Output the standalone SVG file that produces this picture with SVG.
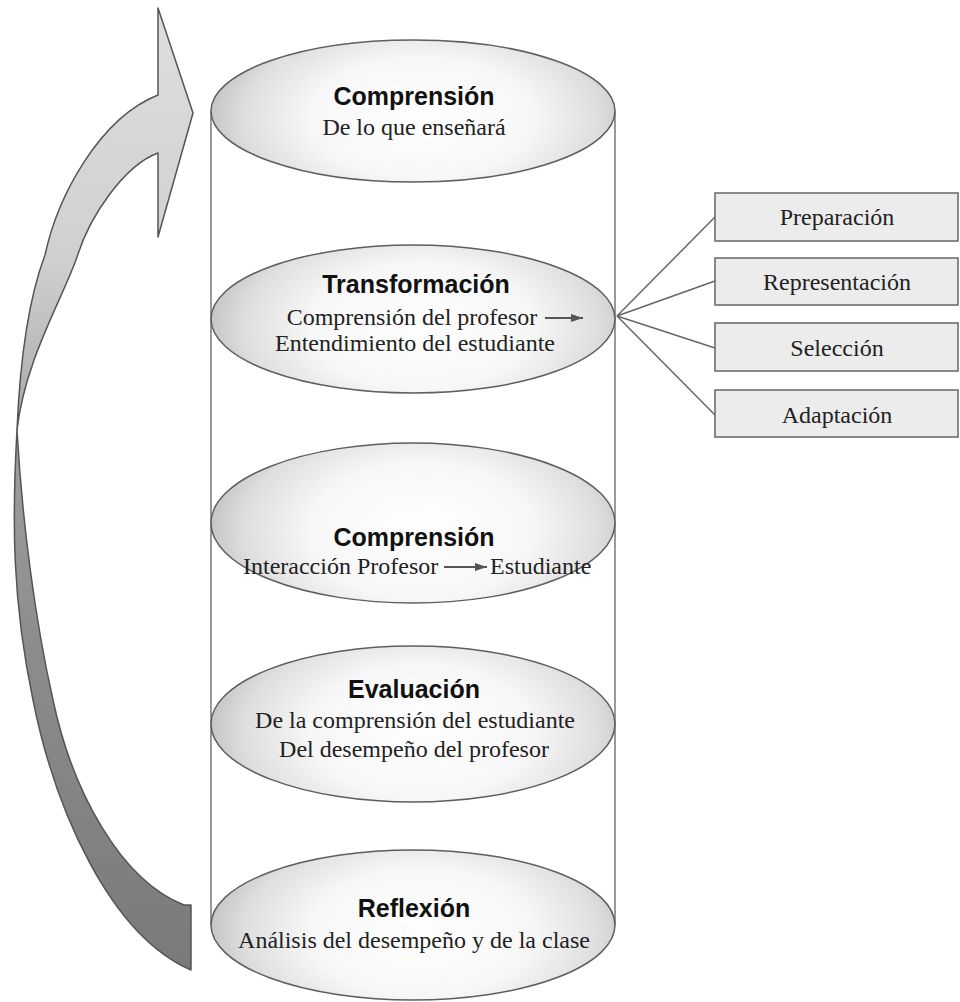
<svg xmlns="http://www.w3.org/2000/svg" width="960" height="1002" viewBox="0 0 960 1002">
<defs>
<radialGradient id="eg" cx="0.52" cy="0.55" r="0.5" gradientTransform="translate(0.52,0.55) scale(1.1,1.7) translate(-0.52,-0.55)">
<stop offset="0" stop-color="#ffffff"/>
<stop offset="0.5" stop-color="#f7f7f7"/>
<stop offset="0.8" stop-color="#dedede"/>
<stop offset="1" stop-color="#bdbdbd"/>
</radialGradient>
<linearGradient id="up" x1="0" y1="0" x2="0" y2="1">
<stop offset="0" stop-color="#dedede"/>
<stop offset="0.6" stop-color="#d0d0d0"/>
<stop offset="1" stop-color="#a8a8a8"/>
</linearGradient>
<linearGradient id="lo" x1="0" y1="0" x2="0" y2="1">
<stop offset="0" stop-color="#a0a0a0"/>
<stop offset="0.4" stop-color="#8c8c8c"/>
<stop offset="1" stop-color="#7a7a7a"/>
</linearGradient>
<marker id="ah" viewBox="0 0 12 8" refX="12" refY="4" markerWidth="12" markerHeight="8" markerUnits="userSpaceOnUse" orient="auto">
<path d="M0,0 L12,4 L0,8 Z" fill="#555"/>
</marker>
</defs>
<style>
.el{fill:url(#eg);stroke:#5e5e5e;stroke-width:1.5}
.cyl{stroke:#777;stroke-width:1.5;fill:none}
.box{fill:#ececec;stroke:#666;stroke-width:1.5}
.con{stroke:#666;stroke-width:1.5;fill:none}
.t{font-family:"Liberation Sans",Arial,sans-serif;font-weight:bold;font-size:25px;fill:#111;text-anchor:middle}
.s{font-family:"Liberation Serif","Times New Roman",serif;font-size:24px;fill:#222;text-anchor:middle}
.sl{font-family:"Liberation Serif","Times New Roman",serif;font-size:24px;fill:#222}
.ia{stroke:#555;stroke-width:1.8;fill:none;marker-end:url(#ah)}
.arw{stroke:#555;stroke-width:1.5;stroke-linejoin:round}
</style>

<g id="cycle-arrow">
<path class="arw" fill="url(#up)" d="M158,95 L158,8 L193,113 L158,237 L158,153 C125,165 90,215 77,257 C62,300 25,360 17,430 C20,360 28,300 45,255 C58,195 100,118 158,95 Z"/>
<path class="arw" fill="url(#lo)" d="M17,430 C12,520 12,600 33,700 C55,810 110,935 191,970 L191,905 L184,905 C120,880 72,790 53,700 C35,620 22,520 17,430 Z"/>
</g>

<g id="cylinder">
<line class="cyl" x1="211" y1="111" x2="211" y2="925"/>
<line class="cyl" x1="615" y1="111" x2="615" y2="925"/>
</g>

<g id="connectors">
<line class="con" x1="617" y1="316" x2="715" y2="217"/>
<line class="con" x1="617" y1="316" x2="715" y2="281"/>
<line class="con" x1="617" y1="316" x2="715" y2="348"/>
<line class="con" x1="617" y1="316" x2="715" y2="415"/>
</g>

<g id="n-comprension-1">
<ellipse class="el" cx="413" cy="111" rx="202" ry="71"/>
<text class="t" x="414" y="105">Comprensión</text>
<text class="s" x="414" y="135">De lo que enseñará</text>
</g>

<g id="n-transformacion">
<ellipse class="el" cx="413" cy="319" rx="202" ry="74"/>
<text class="t" x="416" y="293">Transformación</text>
<text class="s" x="412" y="325">Comprensión del profesor</text>
<line class="ia" x1="545" y1="318" x2="583" y2="318"/>
<text class="s" x="415" y="351">Entendimiento del estudiante</text>
</g>

<g id="n-comprension-2">
<ellipse class="el" cx="413" cy="523" rx="202" ry="80"/>
<text class="t" x="414" y="546">Comprensión</text>
<text class="sl" x="243" y="574">Interacción Profesor</text>
<line class="ia" x1="444" y1="567" x2="487" y2="567"/>
<text class="sl" x="490" y="574">Estudiante</text>
</g>

<g id="n-evaluacion">
<ellipse class="el" cx="413" cy="724" rx="202" ry="78"/>
<text class="t" x="414" y="698">Evaluación</text>
<text class="s" x="415" y="728">De la comprensión del estudiante</text>
<text class="s" x="414" y="757">Del desempeño del profesor</text>
</g>

<g id="n-reflexion">
<ellipse class="el" cx="413" cy="925" rx="202" ry="75"/>
<text class="t" x="414" y="917">Reflexión</text>
<text class="s" x="414" y="948">Análisis del desempeño y de la clase</text>
</g>

<g id="b-preparacion">
<rect class="box" x="715" y="193" width="243" height="48"/>
<text class="s" x="837" y="225">Preparación</text>
</g>
<g id="b-representacion">
<rect class="box" x="715" y="258" width="243" height="47"/>
<text class="s" x="837" y="290">Representación</text>
</g>
<g id="b-seleccion">
<rect class="box" x="715" y="323" width="243" height="48"/>
<text class="s" x="837" y="356">Selección</text>
</g>
<g id="b-adaptacion">
<rect class="box" x="715" y="390" width="243" height="47"/>
<text class="s" x="837" y="423">Adaptación</text>
</g>
</svg>
